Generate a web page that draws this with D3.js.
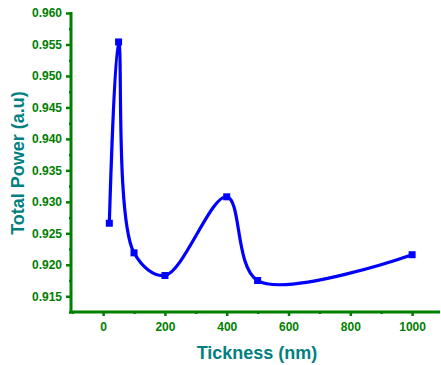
<!DOCTYPE html>
<html>
<head>
<meta charset="utf-8">
<script src="https://cdn.jsdelivr.net/npm/d3@7"></script>
<style>
  body { margin: 0; background: #fff; }
  svg { display: block; }
</style>
</head>
<body>
<script>
// chart size
const w = 441;
const h = 365;

// data
const thickness = [20, 50, 100, 200, 400, 500, 1000];
const power = [0.9266, 0.9554, 0.9219, 0.9183, 0.9308, 0.9175, 0.9216];
const xTicks = [0, 200, 400, 600, 800, 1000];
const yTicks = [0.915, 0.920, 0.925, 0.930, 0.935, 0.940, 0.945, 0.950, 0.955, 0.960];

const green = "#008000";
const teal = "#008080";

// scales
const x = d3.scaleLinear().domain([-104, 1087]).range([71, 439]);
const y = d3.scaleLinear().domain([0.9125, 0.960]).range([312, 13]);

const svg = d3.select("body").append("svg")
  .attr("width", w)
  .attr("height", h)
  .style("font-family", "'Liberation Sans', Arial, sans-serif");

// minor ticks
const xMinor = d3.range(-100, 1090, 100).filter(d => d % 200 != 0);
const yMinor = d3.range(0.9125, 0.9601, 0.005);

const xAxisG = svg.append("g").attr("transform", "translate(0,312)");
xAxisG.call(d3.axisBottom(x).tickValues(xMinor).tickSize(2).tickFormat(""));
const xMajor = svg.append("g").attr("transform", "translate(0,312)")
  .call(d3.axisBottom(x).tickValues(xTicks).tickSize(4).tickPadding(6).tickFormat(d3.format("d")));

const yAxisG = svg.append("g").attr("transform", "translate(71,0)");
yAxisG.call(d3.axisLeft(y).tickValues(yMinor).tickSize(2).tickFormat(""));
const yMajor = svg.append("g").attr("transform", "translate(71,0)")
  .call(d3.axisLeft(y).tickValues(yTicks).tickSize(5).tickPadding(4).tickFormat(d3.format(".3f")));

svg.selectAll(".tick line").attr("stroke", green).attr("stroke-width", 2.5);
svg.selectAll(".domain").remove();
svg.selectAll(".tick text")
  .attr("fill", green)
  .style("font-size", "12px")
  .style("font-weight", "bold");

// axis lines
svg.append("line").attr("x1", 71).attr("x2", 71).attr("y1", 12).attr("y2", 313)
  .attr("stroke", green).attr("stroke-width", 3);
svg.append("line").attr("x1", 70).attr("x2", 440).attr("y1", 312).attr("y2", 312)
  .attr("stroke", green).attr("stroke-width", 3);

// line
const pts = thickness.map((t, i) => [t, power[i]]);
const line = d3.line()
  .x(d => x(d[0]))
  .y(d => y(d[1]))
  .curve(d3.curveCatmullRom.alpha(0.5));

svg.append("path")
  .datum(pts)
  .attr("d", line)
  .attr("fill", "none")
  .attr("stroke", "#0000ff")
  .attr("stroke-width", 3.2);

svg.selectAll("rect.pt")
  .data(pts)
  .enter()
  .append("rect")
  .attr("class", "pt")
  .attr("x", d => x(d[0]) - 3.5)
  .attr("y", d => y(d[1]) - 3.5)
  .attr("width", 7)
  .attr("height", 7)
  .attr("fill", "#0000ff");

// titles
svg.append("text")
  .attr("x", 257)
  .attr("y", 359)
  .attr("text-anchor", "middle")
  .attr("fill", teal)
  .style("font-size", "18px")
  .style("font-weight", "bold")
  .text("Tickness (nm)");

svg.append("text")
  .attr("transform", "translate(24,163) rotate(-90)")
  .attr("text-anchor", "middle")
  .attr("fill", teal)
  .style("font-size", "18px")
  .style("font-weight", "bold")
  .text("Total Power (a.u)");
</script>
</body>
</html>
